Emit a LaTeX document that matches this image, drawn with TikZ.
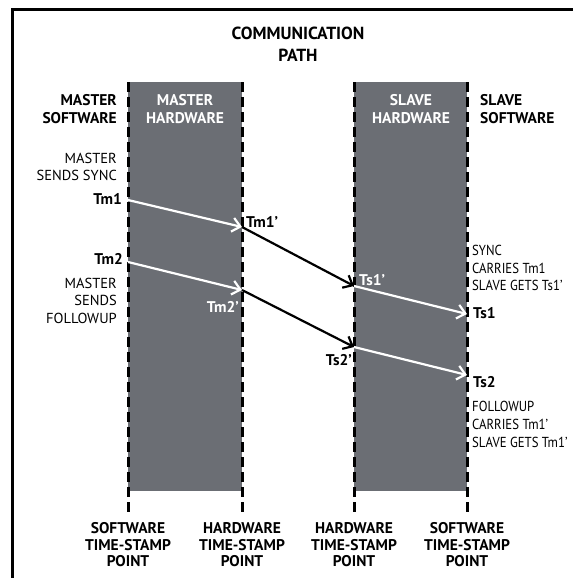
\documentclass[tikz,border=0pt]{standalone}
\usepackage{fontspec}
\setmainfont{PT Sans}
\newfontfamily\narrowsans[FakeStretch=0.88]{PT Sans}
\usetikzlibrary{arrows.meta}
\definecolor{boxgray}{RGB}{107,110,116}
\tikzset{
  lab/.style={inner sep=0pt, font=\fontsize{15.5}{18}\selectfont\bfseries},
  note/.style={inner sep=0pt, font=\fontsize{14.5}{17}\selectfont},
  rnote/.style={inner sep=0pt, font=\fontsize{14.5}{17}\narrowsans},
  ttl/.style={inner sep=0pt, font=\fontsize{17.5}{21}\selectfont\bfseries},
  hwbox/.style={fill=boxgray, draw=none},
  tsline/.style={line width=3pt, dash pattern=on 10pt off 5pt},
  msg/.style={line width=2.2pt, -{Straight Barb[length=8pt,width=14pt]}},
  frame/.style={line width=3pt}
}
\begin{document}
\begin{tikzpicture}[x=1pt,y=-1pt]
\useasboundingbox (0,0) rectangle (573,578);
\clip (0,0) rectangle (573,578);

% outer frame (top and left edges)
\draw[frame] (12.5,578) -- (12.5,9.5) -- (573,9.5);

% hardware regions
\fill[hwbox] (128,82) rectangle (242,491);
\fill[hwbox] (354,82) rectangle (467,491);

% time-stamp points
\coordinate (swM) at (128,82);
\coordinate (hwM) at (242,82);
\coordinate (hwS) at (354,82);
\coordinate (swS) at (467,82);
\coordinate (swMb) at (128,512);
\coordinate (hwMb) at (242,512);
\coordinate (hwSb) at (354,512);
\coordinate (swSb) at (467,512);
\draw[tsline] (swM) -- (swMb);
\draw[tsline] (hwM) -- (hwMb);
\draw[tsline] (hwS) -- (hwSb);
\draw[tsline] (swS) -- (swSb);

% title
\node[ttl, anchor=base] (t1) at (298,40) {COMMUNICATION};
\node[ttl, anchor=base] (t2) at (298,62) {PATH};

% column headings
\node[lab, anchor=base east] (ms1) at (117,105) {MASTER};
\node[lab, anchor=base east] (ms2) at (117,123) {SOFTWARE};
\node[lab, anchor=base, white] (mh1) at (185,105) {MASTER};
\node[lab, anchor=base, white] (mh2) at (185,123) {HARDWARE};
\node[lab, anchor=base, white] (sh1) at (411,105) {SLAVE};
\node[lab, anchor=base, white] (sh2) at (411,123) {HARDWARE};
\node[lab, anchor=base west] (ss1) at (480,105) {SLAVE};
\node[lab, anchor=base west] (ss2) at (480,123) {SOFTWARE};

% master-side notes
\node[note, anchor=base east] (n1) at (117,163) {MASTER};
\node[note, anchor=base east] (n2) at (117,180) {SENDS SYNC};
\node[note, anchor=base east] (n3) at (117,288) {MASTER};
\node[note, anchor=base east] (n4) at (117,305) {SENDS};
\node[note, anchor=base east] (n5) at (117,323) {FOLLOWUP};

% slave-side notes
\node[rnote, anchor=base west] (s1) at (472,255) {SYNC};
\node[rnote, anchor=base west] (s2) at (472,273) {CARRIES Tm1};
\node[rnote, anchor=base west] (s3) at (472,290) {SLAVE GETS Ts1’};
\node[rnote, anchor=base west] (s4) at (472,411) {FOLLOWUP};
\node[rnote, anchor=base west] (s5) at (472,429) {CARRIES Tm1’};
\node[rnote, anchor=base west] (s6) at (472,447) {SLAVE GETS Tm1’};

% message time stamps
\coordinate (Tm1) at (128,200);
\coordinate (Tm1p) at (242,227);
\coordinate (Ts1p) at (354,286);
\coordinate (Ts1) at (467,314);
\coordinate (Tm2) at (128,262);
\coordinate (Tm2p) at (242,290);
\coordinate (Ts2p) at (354,347);
\coordinate (Ts2) at (467,375);

\node[lab, anchor=base east] (lTm1) at (122,204) {Tm1};
\node[lab, anchor=base west] (lTm1p) at (246,227) {Tm1’};
\node[lab, anchor=base west, white] (lTs1p) at (359,285) {Ts1’};
\node[lab, anchor=base west] (lTs1) at (473,318) {Ts1};
\node[lab, anchor=base east] (lTm2) at (123,264) {Tm2};
\node[lab, anchor=base east, white] (lTm2p) at (239,312) {Tm2’};
\node[lab, anchor=base east] (lTs2p) at (352,365) {Ts2’};
\node[lab, anchor=base west] (lTs2) at (473,387) {Ts2};

% sync message
\draw[msg, white] (Tm1) -- (Tm1p);
\draw[msg, black] (Tm1p) -- (Ts1p);
\draw[msg, white] (Ts1p) -- (Ts1);
% followup message
\draw[msg, white] (Tm2) -- (Tm2p);
\draw[msg, black] (Tm2p) -- (Ts2p);
\draw[msg, white] (Ts2p) -- (Ts2);

% time-stamp point captions
\node[lab, anchor=base] (b1a) at (128,533) {SOFTWARE};
\node[lab, anchor=base] (b1b) at (128,550) {TIME-STAMP};
\node[lab, anchor=base] (b1c) at (128,566) {POINT};
\node[lab, anchor=base] (b2a) at (242,533) {HARDWARE};
\node[lab, anchor=base] (b2b) at (242,550) {TIME-STAMP};
\node[lab, anchor=base] (b2c) at (242,566) {POINT};
\node[lab, anchor=base] (b3a) at (354,533) {HARDWARE};
\node[lab, anchor=base] (b3b) at (354,550) {TIME-STAMP};
\node[lab, anchor=base] (b3c) at (354,566) {POINT};
\node[lab, anchor=base] (b4a) at (467,533) {SOFTWARE};
\node[lab, anchor=base] (b4b) at (467,550) {TIME-STAMP};
\node[lab, anchor=base] (b4c) at (467,566) {POINT};
\end{tikzpicture}
\end{document}
